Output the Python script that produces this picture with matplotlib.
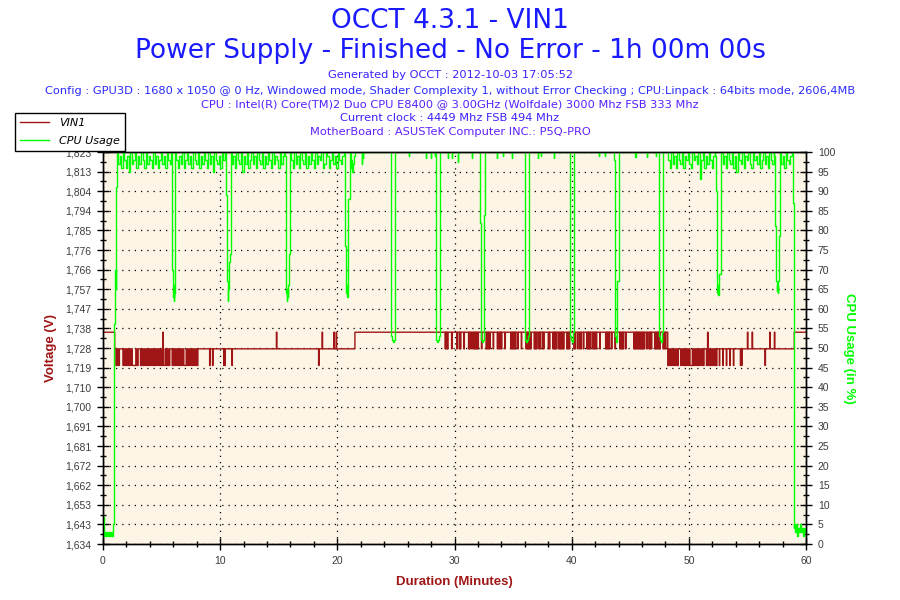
import numpy as np
import matplotlib
matplotlib.use('Agg')
from matplotlib import pyplot as plt
from matplotlib.ticker import MultipleLocator, FixedLocator

plt.rcParams['font.family'] = 'DejaVu Sans'

# ---------------- data ----------------
# VIN1 voltage levels (V)
vin_levels = [1.720, 1.728, 1.736]

# plateaus: start time (minutes) and level index
vin_plateau_t = [0.0, 1.0, 8.1, 21.5, 48.2, 52.4, 59.0]
vin_plateau_lvl = [2, 0, 1, 2, 0, 1, 2]

# dense toggling 1.720 / 1.728 between 1.0 and 8.1 min (0 = 1.720, 1 = 1.728)
vin_band1_span = (1.0, 8.1)
vin_band1 = [1, 0, 1, 0, 1, 1, 1, 0, 1, 0, 1, 0, 1, 0, 1, 0, 0, 0, 1, 0,
             1, 1, 0, 1, 0, 1, 0, 1, 0, 1, 0, 1, 0, 1, 0, 1, 0, 1, 0, 1,
             0, 0, 0, 1, 0, 1, 0, 1, 1, 0, 1, 0, 1, 0, 1, 0, 1, 0, 1, 0,
             0, 1, 0, 1, 0, 1, 0, 1, 0, 1, 0]

# dense toggling 1.720 / 1.728 between 48.2 and 52.4 min
vin_band3_span = (48.2, 52.4)
vin_band3 = [0, 1, 0, 1, 0, 1, 0, 1, 0, 1, 1, 0, 1, 0, 1, 0, 1, 0, 1, 0, 0,
             1, 0, 1, 0, 1, 0, 1, 0, 1, 0, 1, 1, 0, 1, 0, 1, 0, 1, 0, 1, 0]

# short drops from 1.736 to 1.728 between 29.2 and 48.2 min
vin_drop_t = [29.2, 29.3, 29.4, 29.75, 30.2, 30.4, 30.5, 30.8, 31.2, 31.3,
              31.45, 31.6, 31.7, 31.8, 31.9, 32.0, 32.3, 32.7, 32.8, 32.9,
              33.0, 33.3, 33.65, 33.8, 33.9, 34.0, 34.3, 34.8, 34.9, 35.0,
              35.1, 35.2, 35.4, 35.7, 36.1, 36.2, 36.3, 36.4, 36.5, 36.8,
              36.9, 37.0, 37.2, 37.3, 37.5, 37.6, 38.0, 38.1, 38.4, 38.5,
              38.6, 38.7, 38.9, 39.0, 39.1, 39.2, 39.3, 39.6, 39.7, 39.8,
              40.2, 40.3, 40.5, 40.7, 40.8, 41.0, 41.3, 41.4, 41.5, 41.6,
              41.8, 41.9, 42.0, 42.1, 42.4, 42.9, 43.0, 43.1, 43.2, 43.4,
              43.7, 44.1, 44.2, 44.3, 44.4, 44.6, 45.3, 45.4, 45.5, 45.6,
              45.7, 45.8, 45.9, 46.0, 46.1, 46.2, 46.4, 46.6, 46.7, 46.8,
              47.1, 47.2, 47.3, 47.4, 47.5, 47.8, 47.9, 48.0]

# isolated spikes: time and level index
vin_spike_t = [5.1, 9.1, 9.35, 10.3, 10.4, 11.0, 14.8, 18.4, 18.7, 19.7, 19.9,
               51.6, 52.6, 52.9, 53.2, 53.5, 53.8, 54.4, 54.5, 55.0, 55.4,
               56.5, 56.9, 57.3]
vin_spike_lvl = [2, 0, 0, 0, 0, 0, 2, 0, 2, 2, 2,
                 2, 0, 0, 0, 0, 0, 0, 0, 2, 2, 0, 2, 2]

# CPU usage (%): idle start
cpu_idle_span = (0.0, 0.92)
cpu_idle = [7, 2, 3, 2, 3, 2, 3, 2, 3, 2, 5]

# CPU ramp, dips and final drop (time in minutes, usage in %)
cpu_shape_t = [0.96, 0.98, 1.05, 1.08, 1.12, 1.15, 1.22,
               5.90, 5.93, 5.97, 6.00, 6.04, 6.07, 6.10, 6.14, 6.18,
               10.47, 10.50, 10.57, 10.60, 10.64, 10.67, 10.71, 10.75, 10.80, 10.86, 10.92,
               15.57, 15.59, 15.63, 15.65, 15.70, 15.74, 15.78, 15.84, 15.88, 15.96, 16.00,
               20.63, 20.65, 20.73, 20.75, 20.78, 20.82, 20.85, 20.90, 20.95, 21.05, 21.10, 21.14,
               24.58, 24.62, 24.70, 24.78, 24.86, 24.90, 24.95,
               28.42, 28.46, 28.55, 28.65, 28.72, 28.76, 28.80,
               32.17, 32.20, 32.28, 32.31, 32.40, 32.48, 32.52, 32.60, 32.65,
               36.02, 36.05, 36.15, 36.25, 36.32, 36.38,
               39.83, 39.87, 39.95, 40.05, 40.12, 40.17, 40.21,
               43.61, 43.63, 43.68, 43.71, 43.80, 43.88, 43.91, 43.99, 44.05,
               47.42, 47.45, 47.55, 47.65, 47.72, 47.77, 47.81,
               52.28, 52.30, 52.40, 52.42, 52.46, 52.50, 52.54, 52.58, 52.61, 52.72, 52.79,
               57.32, 57.34, 57.45, 57.48, 57.52, 57.56, 57.60, 57.65, 57.70, 57.72, 57.78, 57.82,
               58.88, 58.90, 58.94, 58.96]
cpu_shape_v = [5, 56, 66, 70, 65, 91, 100,
               99, 70, 68, 63, 66, 62, 64, 69, 100,
               99, 90, 89, 70, 67, 62, 65, 68, 72, 74, 100,
               99, 85, 85, 64, 62, 65, 63, 66, 74, 74, 100,
               98, 77, 76, 70, 64, 66, 63, 68, 88, 88, 95, 100,
               100, 53, 52, 51.5, 52, 54, 100,
               100, 52, 51.5, 52, 53, 67, 100,
               100, 82, 82, 52, 51.5, 52, 84, 84, 100,
               100, 52, 51.5, 52, 53, 100,
               100, 53, 52, 51.5, 52, 54, 100,
               100, 98, 98, 53, 51.5, 52, 67, 67, 100,
               100, 53, 52, 51.5, 52, 54, 100,
               99, 90, 90, 67, 64, 66, 63.5, 68, 69, 69, 100,
               99, 82, 81, 67, 64.5, 66, 64, 67, 70, 78.5, 78.5, 100,
               99, 88, 87, 4]

# busy plateaus with small fluctuations
cpu_noise_spans = [(1.25, 5.88), (6.20, 10.45), (10.94, 15.55), (16.02, 20.61),
                   (21.16, 21.50), (48.20, 52.26), (52.81, 57.30), (57.84, 58.86)]
cpu_noise_a = [100, 97, 99, 96, 100, 98, 96, 99, 95, 100, 97, 98, 100, 96, 99, 97, 100, 98, 96,
               100, 97, 99, 98, 96, 100, 97, 99, 96, 98, 100, 97, 99, 96, 100, 98, 97, 100]
cpu_noise_b = [100, 98, 96, 99, 97, 100, 96, 98, 100, 97, 99, 96, 100, 98, 97, 100, 96,
               99, 97, 100, 98, 96, 100, 97, 99, 95, 100, 98, 97, 99, 96, 100, 98, 100]
cpu_noise_c = [100, 97, 99, 96, 100, 98, 97, 100, 95, 99, 97, 100, 96, 98, 100, 97, 99, 96,
               100, 98, 97, 100, 96, 99, 97, 100, 98, 96, 100, 97, 99, 98, 96, 100, 97, 99, 100]
cpu_noise_d = [100, 98, 96, 100, 97, 99, 96, 100, 98, 97, 100, 96, 99, 97, 100, 98, 96, 100,
               97, 99, 98, 100, 96, 97, 100, 99, 96, 98, 100, 97, 99, 96, 100, 98, 97, 99, 100]
cpu_noise_e = [96, 98, 95, 97, 99, 100]
cpu_noise_l = [100, 98, 96, 100, 97, 99, 96, 100, 98, 97, 100, 96, 99, 98, 100, 97, 96,
               100, 98, 99, 97, 100, 93, 98, 100, 96, 99, 97, 100, 98, 96, 99, 100]
cpu_noise_m = [100, 97, 99, 96, 100, 98, 97, 100, 96, 99, 95, 100, 98, 97, 100, 96, 99, 98,
               100, 97, 96, 100, 98, 99, 97, 100, 96, 98, 100, 97, 99, 96, 100, 98, 97, 100]
cpu_noise_n = [100, 97, 99, 96, 100, 98, 97, 99, 100]
cpu_noise = [cpu_noise_a, cpu_noise_b, cpu_noise_c, cpu_noise_d,
             cpu_noise_e, cpu_noise_l, cpu_noise_m, cpu_noise_n]

# small downward ticks while the CPU sits at 100 %
cpu_tick_t = [22.13, 22.2, 26.13, 27.6, 27.96, 28.33, 29.46, 29.8, 30.32, 31.5, 33.6,
              34.16, 34.87, 37.1, 37.4, 38.48, 42.3, 42.87, 45.45, 46.4, 47.2]
cpu_tick_v = [97, 98.5, 99, 98.5, 98.5, 99, 98.5, 98.5, 97.5, 98.5, 98.5,
              99, 98.5, 98.5, 99, 98.5, 99, 99, 98.7, 98.7, 99]

# idle end
cpu_end_span = (59.0, 59.96)
cpu_end = [5, 3, 5, 2, 4, 3, 5, 3, 4, 2, 4, 3]

# voltage axis range and step of its 21 labels
volt_min, volt_step = 1.6340, 0.00944

# ---------------- build series ----------------
t_grid = np.round(np.arange(0, 60.0001, 0.01), 2)
vin = np.zeros_like(t_grid)
bounds = vin_plateau_t + [60.01]
for i, lvl in enumerate(vin_plateau_lvl):
    vin[(t_grid >= bounds[i]) & (t_grid < bounds[i + 1])] = vin_levels[lvl]

for span, codes in [(vin_band1_span, vin_band1), (vin_band3_span, vin_band3)]:
    edges = np.linspace(span[0], span[1], len(codes) + 1)
    for i, c in enumerate(codes):
        vin[(t_grid >= edges[i] - 1e-6) & (t_grid < edges[i + 1] - 1e-6)] = vin_levels[c]

for t in vin_drop_t:
    vin[(t_grid >= t - 1e-6) & (t_grid < t + 0.04)] = vin_levels[1]
for t, lvl in zip(vin_spike_t, vin_spike_lvl):
    vin[(t_grid >= t - 1e-6) & (t_grid < t + 0.04)] = vin_levels[lvl]

pts = []
pts += list(zip(np.linspace(*cpu_idle_span, len(cpu_idle)), cpu_idle))
pts += list(zip(cpu_shape_t, cpu_shape_v))
for span, vals in zip(cpu_noise_spans, cpu_noise):
    pts += list(zip(np.linspace(span[0], span[1], len(vals)), vals))
for t, v in zip(cpu_tick_t, cpu_tick_v):
    pts += [(t - 0.01, 100), (t, v), (t + 0.01, 100)]
pts += list(zip(np.linspace(*cpu_end_span, len(cpu_end)), cpu_end))
pts.sort(key=lambda p: p[0])
cpu_t = [p[0] for p in pts]
cpu_v = [p[1] for p in pts]

# ---------------- plot ----------------
red = '#a01515'
green = '#00ff00'
grey = '#3c3c3c'

fig = plt.figure(figsize=(9, 6), dpi=100)
ax = fig.add_axes([103/900, 1 - 544/600, 703/900, 392/600])
ax.set_facecolor('#fdf5e6')
ax2 = ax.twinx()

l1, = ax.plot(t_grid, vin, color=red, lw=1, drawstyle='steps-post')
l2, = ax2.plot(cpu_t, cpu_v, color=green, lw=1, drawstyle='steps-mid')

yt = volt_min + volt_step * np.arange(21)
ax.set_xlim(0, 60)
ax.set_ylim(yt[0], yt[-1])
ax2.set_ylim(0, 100)

ax.yaxis.set_major_locator(FixedLocator(yt))
ax.yaxis.set_minor_locator(FixedLocator(volt_min + volt_step / 2 * np.arange(41)))
ax.set_yticklabels(['{:.3f}'.format(v).replace('.', ',') for v in yt])
ax.xaxis.set_major_locator(MultipleLocator(10))
ax.xaxis.set_minor_locator(MultipleLocator(2))
ax2.yaxis.set_major_locator(MultipleLocator(5))
ax2.yaxis.set_minor_locator(MultipleLocator(2.5))

for a in (ax, ax2):
    a.tick_params(which='major', direction='inout', length=9, width=1,
                  color='black', labelsize=7.5, labelcolor=grey, pad=4)
    a.tick_params(which='minor', direction='inout', length=5, width=1, color='black')
    for s in a.spines.values():
        s.set_color('black')
        s.set_linewidth(1)
for lab in ax.get_xticklabels() + ax.get_yticklabels() + ax2.get_yticklabels():
    lab.set_family('Liberation Sans')

ax.grid(True, which='major', color='black', linestyle=(0, (1, 4)), linewidth=0.9)

lab_font = {'family': 'Liberation Sans', 'size': 9.5, 'weight': 'bold'}
ax.set_ylabel('Voltage (V)', color=red, fontdict=lab_font, labelpad=6)
ax2.set_ylabel('CPU Usage (in %)', color=green, fontdict=lab_font,
               rotation=-90, labelpad=14)
ax.set_xlabel('Duration (Minutes)', color=red, fontdict=lab_font, labelpad=7)

fig.text(0.5, 1 - 21/600, 'OCCT 4.3.1 - VIN1', ha='center', va='center',
         fontsize=19, color='#1a1aff')
fig.text(0.5, 1 - 51/600, 'Power Supply - Finished - No Error - 1h 00m 00s',
         ha='center', va='center', fontsize=19, color='#1a1aff')
info = [('Generated by OCCT : 2012-10-03 17:05:52', '#3a22ff'),
        ('Config : GPU3D : 1680 x 1050 @ 0 Hz, Windowed mode, Shader Complexity 1, '
         'without Error Checking ; CPU:Linpack : 64bits mode, 2606,4MB', '#2a2aff'),
        ('CPU : Intel(R) Core(TM)2 Duo CPU E8400 @ 3.00GHz (Wolfdale) 3000 Mhz FSB 333 Mhz', '#5520ff'),
        ('Current clock : 4449 Mhz FSB 494 Mhz', '#3a22ff'),
        ('MotherBoard : ASUSTeK Computer INC.: P5Q-PRO', '#6020ff')]
info_y = [75, 90.5, 104.5, 118, 131.5]
for (txt, col), y in zip(info, info_y):
    fig.text(0.5, 1 - y/600, txt, ha='center', va='center', fontsize=8.2, color=col)

leg = fig.legend([l1, l2], ['VIN1', 'CPU Usage'], loc='upper left',
                 bbox_to_anchor=(15/900, 1 - 113/600), borderaxespad=0,
                 prop={'style': 'italic', 'size': 8}, fancybox=False,
                 edgecolor='black', framealpha=1, handlelength=2.6,
                 handletextpad=0.9, labelspacing=0.75, borderpad=0.45)
leg.get_frame().set_linewidth(1)

fig.savefig('out.png', dpi=100, facecolor='white')
